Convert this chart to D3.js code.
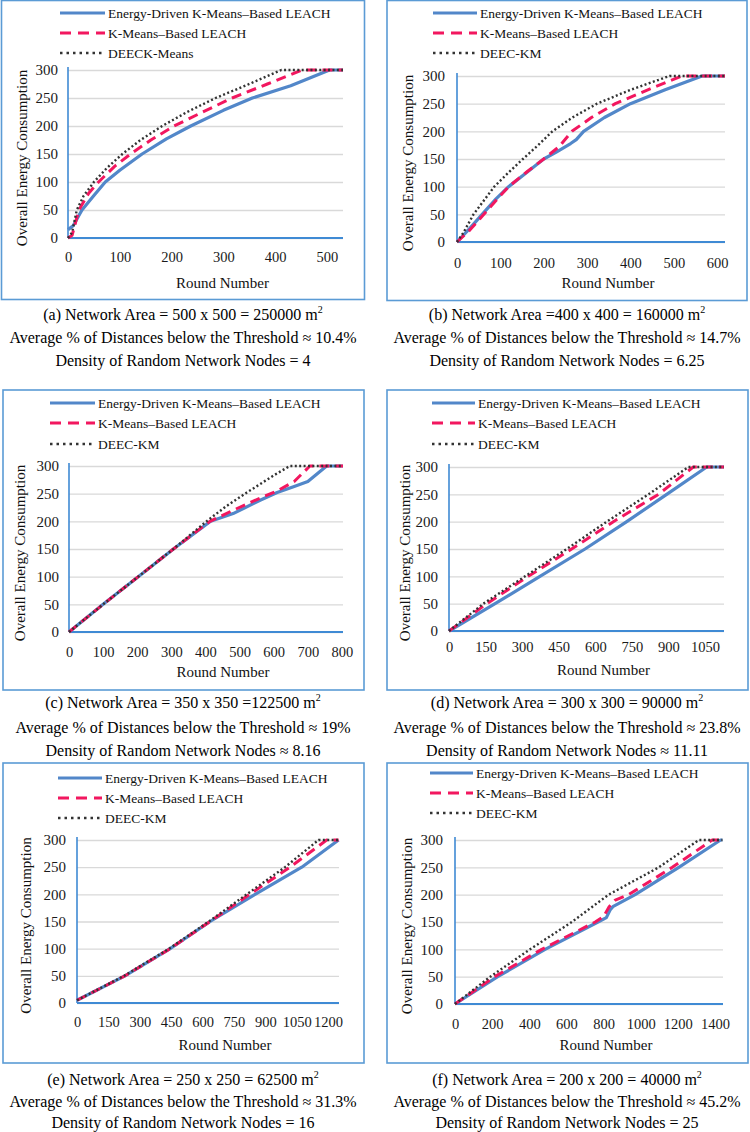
<!DOCTYPE html>
<html>
<head>
<meta charset="utf-8">
<script src="https://cdn.jsdelivr.net/npm/d3@7"></script>
<style>
  html, body { margin: 0; padding: 0; background: #fff; }
  svg { display: block; }
</style>
</head>
<body>
<svg id="chart" width="750" height="1132"></svg>
<script>
// ---------------- DATA ----------------
const seriesNames = ["Energy-Driven K-Means\u2013Based LEACH", "K-Means\u2013Based LEACH"];
const thirdNames = ["DEECK-Means", "DEEC-KM", "DEEC-KM", "DEEC-KM", "DEEC-KM", "DEEC-KM"];
const yTickValues = [0, 50, 100, 150, 200, 250, 300];

// Panel (a)
const xTicksA = [0, 100, 200, 300, 400, 500];
const energyA = [[0,15],[10,22],[27,50],[50,76],[72,100],[100,121],[143,150],[190,177],[237,200],[300,228],[356,250],[430,272],[505,300],[531,300]];
const kmeansA = [[0,0],[8,5],[21,50],[40,80],[59,100],[90,128],[121,150],[160,175],[205,200],[260,225],[317,250],[385,275],[452,300],[531,300]];
const deecA   = [[0,0],[8,10],[17,50],[30,75],[50,100],[75,125],[105,150],[140,175],[182,200],[230,225],[285,250],[345,273],[412,300],[531,300]];

// Panel (b)
const xTicksB = [0, 100, 200, 300, 400, 500, 600];
const energyB = [[0,0],[30,25],[58,50],[90,78],[119,100],[160,125],[200,150],[230,163],[262,178],[275,185],[292,200],[340,225],[400,250],[480,275],[565,300],[618,300]];
const kmeansB = [[0,0],[30,22],[62,50],[90,75],[119,100],[160,126],[200,150],[235,172],[265,200],[310,225],[365,250],[440,275],[519,300],[618,300]];
const deecB   = [[0,0],[15,17],[38,50],[86,100],[118,125],[152,150],[187,175],[220,200],[266,225],[323,250],[400,275],[490,300],[618,300]];

// Panel (c)
const xTicksC = [0, 100, 200, 300, 400, 500, 600, 700, 800];
const energyC = [[0,0],[100,50],[203,100],[306,150],[415,200],[481,214],[560,238],[610,252],[660,263],[700,272],[755,300],[803,300]];
const kmeansC = [[0,0],[100,50],[203,100],[306,150],[413,200],[481,220],[560,242],[610,255],[660,272],[706,300],[803,300]];
const deecC   = [[0,0],[100,50],[203,100],[306,150],[403,200],[460,227],[516,250],[600,283],[647,300],[803,300]];

// Panel (d)
const xTicksD = [0, 150, 300, 450, 600, 750, 900, 1050];
const energyD = [[0,0],[189,50],[373,100],[558,150],[729,200],[893,250],[1057,300],[1128,300]];
const kmeansD = [[0,0],[155,50],[325,100],[503,150],[674,200],[859,250],[1002,300],[1128,300]];
const deecD   = [[0,0],[141,50],[312,100],[483,150],[647,200],[818,250],[982,300],[1128,300]];

// Panel (e)
const xTicksE = [0, 150, 300, 450, 600, 750, 900, 1050, 1200];
const energyE = [[0,5],[229,50],[445,100],[636,150],[851,200],[1074,250],[1250,300]];
const kmeansE = [[0,5],[229,50],[445,100],[636,150],[825,200],[1018,250],[1193,300],[1250,300]];
const deecE   = [[0,5],[225,50],[440,100],[630,150],[811,200],[994,250],[1154,300],[1250,300]];

// Panel (f)
const xTicksF = [0, 200, 400, 600, 800, 1000, 1200, 1400];
const energyF = [[0,0],[230,50],[485,100],[770,150],[815,158],[835,172],[850,178],[970,200],[1205,250],[1430,300],[1440,300]];
const kmeansF = [[0,0],[214,50],[467,100],[755,150],[800,160],[830,178],[863,190],[935,200],[1170,250],[1385,300],[1440,300]];
const deecF   = [[0,0],[190,50],[404,100],[629,150],[827,200],[1097,250],[1313,300],[1440,300]];

// Captions
const captionAreas = [
  "(a) Network Area = 500 x 500 = 250000 m",
  "(b) Network Area =400 x 400 = 160000 m",
  "(c) Network Area = 350 x 350 =122500 m",
  "(d) Network Area = 300 x 300 = 90000 m",
  "(e) Network Area = 250 x 250 = 62500 m",
  "(f) Network Area = 200 x 200 = 40000 m"
];
const captionThresholds = ["10.4%", "14.7%", "19%", "23.8%", "31.3%", "45.2%"];
const captionDensities = ["= 4", "= 6.25", "\u2248 8.16", "\u2248 11.11", "= 16", "= 25"];
const xDomainMax = [531, 618, 803, 1128, 1252, 1443];

// ---------------- LAYOUT ----------------
const layout = [
  {box:[1.5,0.5,363,299], x0:68, x1:343, yTop:70, yBot:238, yLab:58, xLab:262, rn:288, yt:22, lg:[60,105,108], lgy:[13,33,53], cap:[320,343,366], cx:183},
  {box:[387,0.5,360,300], x0:457, x1:725, yTop:76, yBot:242, yLab:445, xLab:268, rn:288, yt:408, lg:[433,477,480], lgy:[13,33,53], cap:[320,343,366], cx:567},
  {box:[3,390,361,300], x0:69, x1:343, yTop:466, yBot:632, yLab:59, xLab:657, rn:677, yt:20, lg:[50,95,98], lgy:[403,423,444], cap:[708,733,756], cx:183},
  {box:[387,390,361,300], x0:449, x1:724, yTop:467, yBot:631, yLab:438, xLab:652, rn:675, yt:405, lg:[432,475,478], lgy:[403,423,444], cap:[708,733,756], cx:567},
  {box:[3,763,361,300], x0:77, x1:339, yTop:840, yBot:1003, yLab:66, xLab:1027, rn:1050, yt:26, lg:[58,102,105], lgy:[778,798,818], cap:[1085,1107,1128], cx:183},
  {box:[387,763,361,300], x0:455, x1:723, yTop:840, yBot:1004, yLab:443, xLab:1029, rn:1050, yt:407, lg:[430,473,476], lgy:[773,793,813], cap:[1085,1107,1128], cx:567}
];
const panelSeries = [
  [energyA, kmeansA, deecA], [energyB, kmeansB, deecB], [energyC, kmeansC, deecC],
  [energyD, kmeansD, deecD], [energyE, kmeansE, deecE], [energyF, kmeansF, deecF]
];
const panelXTicks = [xTicksA, xTicksB, xTicksC, xTicksD, xTicksE, xTicksF];

const FONT = "'Liberation Serif','Times New Roman',serif";
const styles = [
  {stroke:"#5287c9", width:3.2, dash:null, legendDash:null},
  {stroke:"#f2175f", width:3, dash:"10,6", legendDash:"11,7"},
  {stroke:"#333333", width:2.4, dash:"2,2.4", legendDash:"2.5,4"}
];

const svg = d3.select("#chart");

layout.forEach((L, i) => {
  const g = svg.append("g");
  const x = d3.scaleLinear().domain([0, xDomainMax[i]]).range([L.x0, L.x1]);
  const y = d3.scaleLinear().domain([0, 300]).range([L.yBot, L.yTop]);

  // box
  g.append("rect").attr("x", L.box[0]).attr("y", L.box[1]).attr("width", L.box[2]).attr("height", L.box[3])
    .attr("fill", "none").attr("stroke", "#5b9bd5").attr("stroke-width", 1.6);

  // y axis with gridlines
  const ya = g.append("g").attr("transform", `translate(${L.x0},0)`)
    .call(d3.axisLeft(y).tickValues(yTickValues).tickSize(-(L.x1 - L.x0)).tickPadding(L.x0 - L.yLab));
  ya.attr("font-family", FONT);
  ya.select(".domain").remove();
  ya.selectAll(".tick line").attr("stroke", "#d9d9d9").attr("stroke-width", 1.3);
  ya.selectAll(".tick text").attr("font-family", FONT).attr("font-size", 15).attr("fill", "#1a1a1a");

  // x axis
  const xa = g.append("g").attr("transform", `translate(0,${L.yBot})`)
    .call(d3.axisBottom(x).tickValues(panelXTicks[i]).tickSize(0).tickFormat(d3.format("d")));
  xa.attr("font-family", FONT);
  xa.select(".domain").remove();
  xa.selectAll(".tick text").attr("font-family", FONT).attr("font-size", 14.5).attr("fill", "#1a1a1a")
    .attr("y", L.xLab - L.yBot).attr("dy", 0);

  // blue axis lines
  g.append("line").attr("x1", L.x0).attr("x2", L.x0).attr("y1", L.yTop - 3).attr("y2", L.yBot)
    .attr("stroke", "#3f8ad4").attr("stroke-width", 1.6);
  g.append("line").attr("x1", L.x0).attr("x2", L.x1).attr("y1", L.yBot).attr("y2", L.yBot)
    .attr("stroke", "#3f8ad4").attr("stroke-width", 1.8);

  // series
  const line = d3.line().x(d => x(d[0])).y(d => y(d[1]));
  panelSeries[i].forEach((s, k) => {
    g.append("path").datum(s).attr("d", line).attr("fill", "none")
      .attr("stroke", styles[k].stroke).attr("stroke-width", styles[k].width)
      .attr("stroke-dasharray", styles[k].dash).attr("stroke-linejoin", "round");
  });

  // axis titles
  g.append("text").attr("x", (L.x0 + L.x1) / 2 + 17).attr("y", L.rn).attr("text-anchor", "middle")
    .attr("font-family", FONT).attr("font-size", 15).attr("fill", "#111").text("Round Number");
  g.append("text").attr("transform", `translate(${L.yt},${(L.yTop + L.yBot) / 2 + 4}) rotate(-90)`)
    .attr("text-anchor", "middle").attr("dy", "0.35em")
    .attr("font-family", FONT).attr("font-size", 15).attr("fill", "#111").text("Overall Energy Consumption");

  // legend
  const names = [seriesNames[0], seriesNames[1], thirdNames[i]];
  names.forEach((nm, k) => {
    g.append("line").attr("x1", L.lg[0]).attr("x2", L.lg[1]).attr("y1", L.lgy[k]).attr("y2", L.lgy[k])
      .attr("stroke", styles[k].stroke).attr("stroke-width", k === 2 ? 2.4 : 3.2)
      .attr("stroke-dasharray", styles[k].legendDash);
    g.append("text").attr("x", L.lg[2]).attr("y", L.lgy[k]).attr("dy", "0.35em")
      .attr("font-family", FONT).attr("font-size", 13.5).attr("fill", "#111").text(nm);
  });

  // caption
  const c1 = g.append("text").attr("x", L.cx).attr("y", L.cap[0]).attr("text-anchor", "middle")
    .attr("font-family", FONT).attr("font-size", 16).attr("fill", "#000");
  c1.append("tspan").text(captionAreas[i]);
  c1.append("tspan").attr("font-size", 10).attr("dy", -7).text("2");
  g.append("text").attr("x", L.cx).attr("y", L.cap[1]).attr("text-anchor", "middle")
    .attr("font-family", FONT).attr("font-size", 16).attr("fill", "#000")
    .text("Average % of Distances below the Threshold \u2248 " + captionThresholds[i]);
  g.append("text").attr("x", L.cx).attr("y", L.cap[2]).attr("text-anchor", "middle")
    .attr("font-family", FONT).attr("font-size", 16).attr("fill", "#000")
    .text("Density of Random Network Nodes " + captionDensities[i]);
});
</script>
</body>
</html>
